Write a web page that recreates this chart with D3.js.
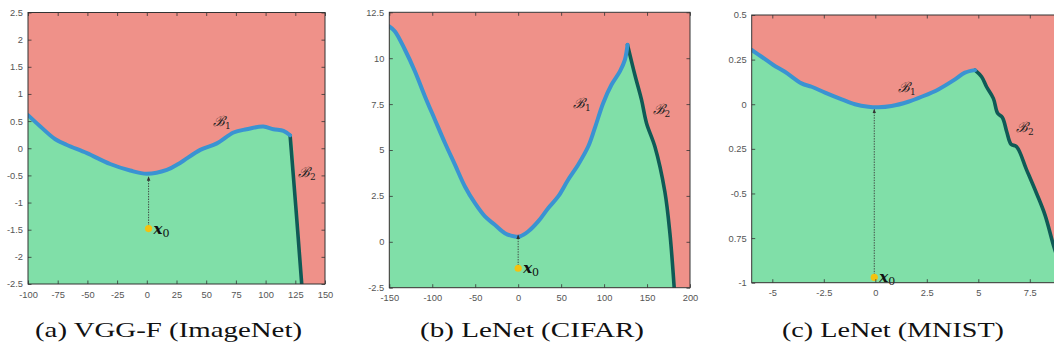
<!DOCTYPE html>
<html><head><meta charset="utf-8">
<script src="https://cdn.jsdelivr.net/npm/d3@7"></script>
<style>body{margin:0;background:#fff}svg{display:block}</style>
</head><body>
<svg id="c" width="1054" height="352"></svg>
<script>
// ---------- data ----------
const captions = ["(a) VGG-F (ImageNet)", "(b) LeNet (CIFAR)", "(c) LeNet (MNIST)"];

// panel (a)
const aXTicks = [-100,-75,-50,-25,0,25,50,75,100,125,150];
const aYTicks = [2.5,2,1.5,1,0.5,0,-0.5,-1,-1.5,-2,-2.5];
const aYLabels = ["2.5","2","1.5","1","0.5","0","-0.5","-1","-1.5","-2","-2.5"];
const aB1 = [[-100,0.61],[-89.6,0.40],[-77,0.165],[-67.2,0.06],[-50.4,-0.09],[-30.8,-0.29],[-14,-0.41],[0,-0.47],[16.9,-0.40],[28,-0.27],[45,-0.03],[59,0.09],[73,0.29],[84,0.35],[98,0.40],[106.6,0.35],[115,0.32],[120.6,0.24]];
const aB2 = [[120.6,0.24],[125.5,-1.1],[130.4,-2.5]];
const aX0 = [1.5,-1.48], aTip = [1.5,-0.53];

// panel (b)
const bXTicks = [-150,-100,-50,0,50,100,150,200];
const bYTicks = [12.5,10,7.5,5,2.5,0,-2.5];
const bYLabels = ["12.5","10","7.5","5","2.5","0","-2.5"];
const bB1 = [[-150,11.73],[-143.4,11.46],[-131.8,10.46],[-120.1,9.28],[-108.5,7.92],[-96.9,6.65],[-85.2,5.38],[-73.6,4.2],[-62,3.01],[-50.3,2.1],[-38.7,1.38],[-27.2,0.93],[-15.5,0.47],[-3.9,0.29],[1.9,0.29],[11.6,0.56],[23.3,1.11],[34.9,1.83],[46.6,2.47],[58.2,3.38],[69.8,4.2],[81.5,5.19],[89.2,6.19],[98.9,7.55],[108.6,8.55],[118.4,9.28],[124.2,9.91],[127.3,10.73]];
const bB2 = [[127.3,10.73],[135.8,9.1],[143.6,7.73],[149.4,6.46],[159.1,5.19],[170.7,2.74],[176.6,0.47],[181.6,-2.5]];
const bX0 = [0,-1.44], bTip = [0,0.36];

// panel (c)
const cXTicks = [-5,-2.5,0,2.5,5,7.5];
const cYTicks = [0.5,0.25,0,-0.25,-0.5,-0.75,-1];
const cYLabels = ["0.5","0.25","0","0.25","-0.5","0.75","-1"];
const cB1 = [[-6,0.304],[-5.52,0.266],[-4.95,0.22],[-4.39,0.182],[-3.58,0.117],[-3.09,0.098],[-2.44,0.065],[-1.63,0.027],[-0.99,0.0],[-0.34,-0.014],[0.15,-0.017],[0.79,-0.01],[1.6,0.014],[2.25,0.042],[3.06,0.083],[3.87,0.139],[4.35,0.177],[4.84,0.191]];
const cB2 = [[4.84,0.191],[5.16,0.154],[5.4,0.098],[5.73,0.033],[5.94,-0.051],[6.17,-0.074],[6.38,-0.154],[6.59,-0.224],[6.86,-0.238],[7.35,-0.369],[7.83,-0.5],[8.24,-0.621],[8.67,-0.798],[9.1,-0.95],[9.3,-1.0]];
const cX0 = [-0.05,-0.97], cTip = [-0.05,-0.03];

// ---------- drawing ----------
const svg = d3.select("#c");
const RED = "#EF9189", GREEN = "#80DFA8", BLUE = "#3A93D2", DARK = "#0F5A56", GOLD = "#F4C20F";

svg.append("defs").append("marker")
  .attr("id","arr").attr("viewBox","0 0 6 6").attr("refX",5).attr("refY",3)
  .attr("markerWidth",5).attr("markerHeight",5).attr("orient","auto")
  .append("path").attr("d","M0,0.6L6,3L0,5.4Z").attr("fill","#333");

const panels = [
  {id:"a", box:[28,325,12.5,284], xd:[-100,150], yd:[-2.5,2.5], xt:aXTicks, yt:aYTicks, yl:aYLabels,
   b1:aB1, b2:aB2, x0:aX0, tip:aTip, lb1:[213,126], lb2:[298,177], cap:captions[0], capX:168.5, capW:267},
  {id:"b", box:[389.3,690,12.3,287.7], xd:[-150,200], yd:[-2.5,12.5], xt:bXTicks, yt:bYTicks, yl:bYLabels,
   b1:bB1, b2:bB2, x0:bX0, tip:bTip, lb1:[573,108], lb2:[652.5,114], cap:captions[1], capX:532, capW:224},
  {id:"c", box:[751.7,1081.3,15,282.7], xd:[-6,10], yd:[-1,0.5], xt:cXTicks, yt:cYTicks, yl:cYLabels,
   b1:cB1, b2:cB2, x0:cX0, tip:cTip, lb1:[898,92], lb2:[1016,132], cap:captions[2], capX:893, capW:222}
];

panels.forEach(p => {
  const [L,R,T,B] = p.box;
  const x = d3.scaleLinear().domain(p.xd).range([L,R]);
  const y = d3.scaleLinear().domain(p.yd).range([B,T]);
  const g = svg.append("g");
  g.append("clipPath").attr("id","clip"+p.id).append("rect")
    .attr("x",L).attr("y",T).attr("width",R-L).attr("height",B-T);
  const inner = g.append("g").attr("clip-path","url(#clip"+p.id+")");
  inner.append("rect").attr("x",L).attr("y",T).attr("width",R-L).attr("height",B-T).attr("fill",RED);
  const all = p.b1.concat(p.b2.slice(1));
  const area = d3.area().x(d=>x(d[0])).y0(B).y1(d=>y(d[1])).curve(d3.curveCatmullRom);
  inner.append("path").attr("d",area(all)).attr("fill",GREEN);
  const line = d3.line().x(d=>x(d[0])).y(d=>y(d[1])).curve(d3.curveCatmullRom);
  inner.append("path").attr("d",line(p.b2)).attr("fill","none").attr("stroke",DARK)
    .attr("stroke-width",3.6).attr("stroke-linecap","round");
  inner.append("path").attr("d",line(p.b1)).attr("fill","none").attr("stroke",BLUE)
    .attr("stroke-width",4).attr("stroke-linecap","round").attr("stroke-linejoin","round");

  // arrow
  g.append("line").attr("x1",x(p.x0[0])).attr("y1",y(p.x0[1])).attr("x2",x(p.tip[0])).attr("y2",y(p.tip[1]))
    .attr("stroke","#3a3a3a").attr("stroke-width",0.9).attr("stroke-dasharray","1.4,1.2")
    .attr("marker-end","url(#arr)");
  g.append("circle").attr("cx",x(p.x0[0])).attr("cy",y(p.x0[1])).attr("r",3.6).attr("fill",GOLD);
  const xl = g.append("text").attr("x",x(p.x0[0])+5).attr("y",y(p.x0[1])+5)
    .attr("font-family","DejaVu Serif").attr("fill","#111");
  xl.append("tspan").attr("font-size",15).attr("font-weight","bold").attr("font-style","italic").text("x");
  xl.append("tspan").attr("font-size",11).attr("dy",3).text("0");

  // boundary labels
  [[p.lb1,"1"],[p.lb2,"2"]].forEach(([pos,s]) => {
    const t = g.append("text").attr("x",pos[0]).attr("y",pos[1]).attr("font-family","DejaVu Serif").attr("fill","#222");
    t.append("tspan").attr("font-size",14).attr("font-style","italic").text("\u212C");
    t.append("tspan").attr("font-size",9).attr("dy",3).text(s);
  });

  // axes (MATLAB-like, inward ticks, box)
  const fmtY = d => p.yl[p.yt.indexOf(d)];
  const ax = g.append("g").attr("font-family","Liberation Sans");
  const bottom = ax.append("g").attr("transform",`translate(0,${B})`)
    .call(d3.axisBottom(x).tickValues(p.xt).tickSize(-3.5).tickPadding(7).tickFormat(d=>String(d)));
  const top = ax.append("g").attr("transform",`translate(0,${T})`)
    .call(d3.axisTop(x).tickValues(p.xt).tickSize(-3.5).tickFormat(""));
  const left = ax.append("g").attr("transform",`translate(${L},0)`)
    .call(d3.axisLeft(y).tickValues(p.yt).tickSize(-3.5).tickPadding(5).tickFormat(fmtY));
  const right = ax.append("g").attr("transform",`translate(${R},0)`)
    .call(d3.axisRight(y).tickValues(p.yt).tickSize(-3.5).tickFormat(""));
  [bottom,top,left,right].forEach(a => {
    a.select(".domain").remove();
    a.selectAll(".tick line").attr("stroke","#333").attr("stroke-width",0.8);
    a.selectAll(".tick text").attr("fill","#555").attr("font-size",9.3).attr("font-family","Liberation Sans");
  });
  ax.append("rect").attr("x",L).attr("y",T).attr("width",R-L).attr("height",B-T)
    .attr("fill","none").attr("stroke","#333").attr("stroke-width",1);

  // caption
  svg.append("text").attr("x",p.capX).attr("y",337).attr("text-anchor","middle")
    .attr("font-family","Liberation Serif").attr("font-size",21).attr("fill","#111")
    .attr("textLength",p.capW).attr("lengthAdjust","spacingAndGlyphs").text(p.cap);
});
</script>
</body></html>
